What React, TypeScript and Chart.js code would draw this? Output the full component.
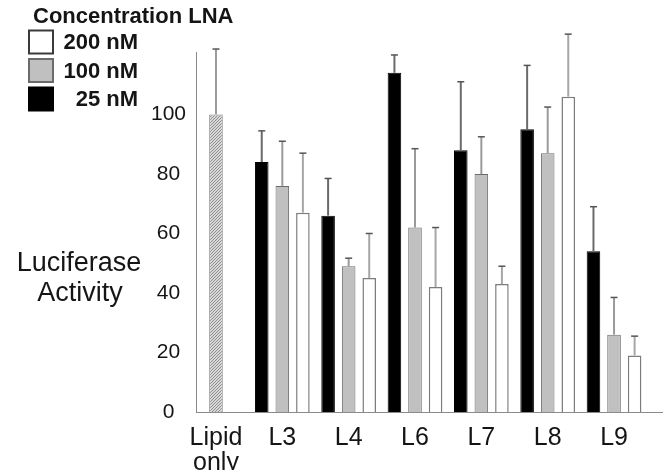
import React, { useEffect, useRef } from 'react';
import { Chart, registerables } from 'chart.js';

Chart.register(...registerables);

// ---- data ----
const categories = ['Lipid only', 'L3', 'L4', 'L6', 'L7', 'L8', 'L9'];
const seriesLabels = ['25 nM', '100 nM', '200 nM'];
const values25 = [null, 84, 66, 114, 88, 95, 54];
const values100 = [100, 76, 49, 62, 80, 87, 26];
const values200 = [null, 67, 45, 42, 43, 106, 19];
const err25 = [null, 10.5, 12.5, 6, 23, 21.5, 15];
const err100 = [22, 15, 2.7, 26.5, 12.5, 15.5, 12.5];
const err200 = [null, 20, 15, 20, 6, 21, 6.5];
const yTicks = [0, 20, 40, 60, 80, 100];
const yTitle = ['Luciferase', 'Activity'];
const legendTitle = 'Concentration LNA';
const controlIndex = 0; // "Lipid only" shown hatched

// ---- styles ----
const FONT = "'Liberation Sans', Arial, Helvetica, sans-serif";
const TEXT = '#151515';
const AXIS = '#8a8a8a';
const fills = ['#000000', '#c0c0c0', '#ffffff'];
const borders = ['#000000', '#6b6b6b', '#7c7c7c'];
const borderWidths = [1, 1, 1.5];
const errColors = ['#6a6a6a', '#9a9a9a', '#a6a6a6'];
const legendBorders = ['#000000', '#6b6b6b', '#3a3a3a'];

function makeHatch(): CanvasPattern | string {
  const c = document.createElement('canvas');
  c.width = 3;
  c.height = 3;
  const g = c.getContext('2d');
  if (!g) return '#c8c8c8';
  g.fillStyle = '#d8d8d8';
  g.fillRect(0, 0, 3, 3);
  g.fillStyle = '#8e8e8e';
  for (let i = 0; i < 3; i++) g.fillRect(i, 2 - i, 1, 1);
  return g.createPattern(c, 'repeat') || '#c8c8c8';
}

const errorBarPlugin = {
  id: 'errorBars',
  afterDatasetsDraw(chart: any) {
    const ctx = chart.ctx;
    const yScale = chart.scales.y;
    chart.data.datasets.forEach((ds: any, di: number) => {
      const meta = chart.getDatasetMeta(di);
      if (meta.hidden) return;
      meta.data.forEach((el: any, i: number) => {
        const v = ds.data[i]?.y;
        const e = ds.errors[i];
        if (v == null || e == null) return;
        const yTop = yScale.getPixelForValue(v + e);
        ctx.save();
        ctx.strokeStyle = ds.errorColor;
        ctx.lineWidth = 2;
        ctx.beginPath();
        ctx.moveTo(el.x, el.y);
        ctx.lineTo(el.x, yTop);
        ctx.stroke();
        ctx.strokeStyle = '#555555';
        ctx.lineWidth = 1.5;
        ctx.beginPath();
        ctx.moveTo(el.x - 3.5, yTop);
        ctx.lineTo(el.x + 3.5, yTop);
        ctx.stroke();
        ctx.restore();
      });
    });
  },
};

const annotationsPlugin = {
  id: 'annotations',
  afterDraw(chart: any) {
    const ctx = chart.ctx;
    ctx.save();
    // y-axis title (horizontal)
    ctx.fillStyle = TEXT;
    ctx.font = `27px ${FONT}`;
    ctx.textAlign = 'center';
    ctx.textBaseline = 'middle';
    ctx.fillText(yTitle[0], 79, 263.5);
    ctx.fillText(yTitle[1], 80, 293.5);

    // legend
    ctx.font = `bold 22px ${FONT}`;
    ctx.textAlign = 'left';
    ctx.textBaseline = 'alphabetic';
    ctx.fillText(legendTitle, 33, 23);
    const order = [2, 1, 0];
    order.forEach((di, k) => {
      const cy = 42 + k * 28.5;
      ctx.fillStyle = fills[di];
      ctx.fillRect(29, cy - 11.5, 24, 23);
      ctx.strokeStyle = legendBorders[di];
      ctx.lineWidth = 2;
      ctx.strokeRect(29, cy - 11.5, 24, 23);
      ctx.fillStyle = TEXT;
      ctx.textAlign = 'right';
      ctx.textBaseline = 'middle';
      ctx.fillText(seriesLabels[di], 138, cy + 1);
    });
    ctx.restore();
  },
};

export default function App() {
  const ref = useRef<HTMLCanvasElement | null>(null);

  useEffect(() => {
    document.body.style.margin = '0';
    const canvas = ref.current;
    if (!canvas) return;
    const hatch = makeHatch();
    const valueSets = [values25, values100, values200];
    const errSets = [err25, err100, err200];

    const datasets = valueSets.map((vals, di) => ({
      label: seriesLabels[di],
      data: vals.map((v, i) => ({ x: i, y: v })),
      errors: errSets[di],
      errorColor: errColors[di],
      backgroundColor: (c: any) => (c.dataIndex === controlIndex ? hatch : fills[di]),
      borderColor: (c: any) => (c.dataIndex === controlIndex ? '#858585' : borders[di]),
      borderWidth: borderWidths[di],
      barPercentage: 0.66,
      categoryPercentage: 0.93,
    }));

    const chart = new Chart(canvas, {
      type: 'bar',
      data: { datasets: datasets as any },
      plugins: [errorBarPlugin, annotationsPlugin],
      options: {
        animation: false,
        responsive: false,
        devicePixelRatio: 1,
        layout: { padding: { top: 52, left: 0, right: 0, bottom: 0 } },
        plugins: { legend: { display: false }, tooltip: { enabled: false } },
        scales: {
          x: {
            type: 'linear',
            offset: false,
            min: -0.301,
            max: 6.738,
            grid: { display: false, drawTicks: false, offset: false },
            border: { display: true, color: AXIS, width: 1 },
            afterBuildTicks: (axis: any) => {
              axis.ticks = categories.map((_, i) => ({ value: i }));
            },
            afterFit: (s: any) => {
              s.height = 58;
            },
            ticks: {
              autoSkip: false,
              maxRotation: 0,
              minRotation: 0,
              padding: 14,
              color: TEXT,
              font: { family: FONT, size: 25, lineHeight: 0.98 },
              callback: (v: any) => {
                const label = categories[Math.round(Number(v))];
                return label ? label.split(' ') : '';
              },
            },
          },
          y: {
            min: 0,
            max: 121,
            grid: { display: false, drawTicks: false },
            border: { display: true, color: AXIS, width: 1 },
            afterBuildTicks: (axis: any) => {
              axis.ticks = yTicks.map((v) => ({ value: v }));
            },
            afterFit: (s: any) => {
              s.width = 196;
            },
            ticks: {
              crossAlign: 'center',
              padding: 10,
              color: TEXT,
              font: { family: FONT, size: 21 },
            },
          },
        },
      } as any,
    });
    return () => chart.destroy();
  }, []);

  return (
    <div style={{ width: 663, height: 470, background: '#ffffff' }}>
      <canvas ref={ref} width={663} height={470} />
    </div>
  );
}
